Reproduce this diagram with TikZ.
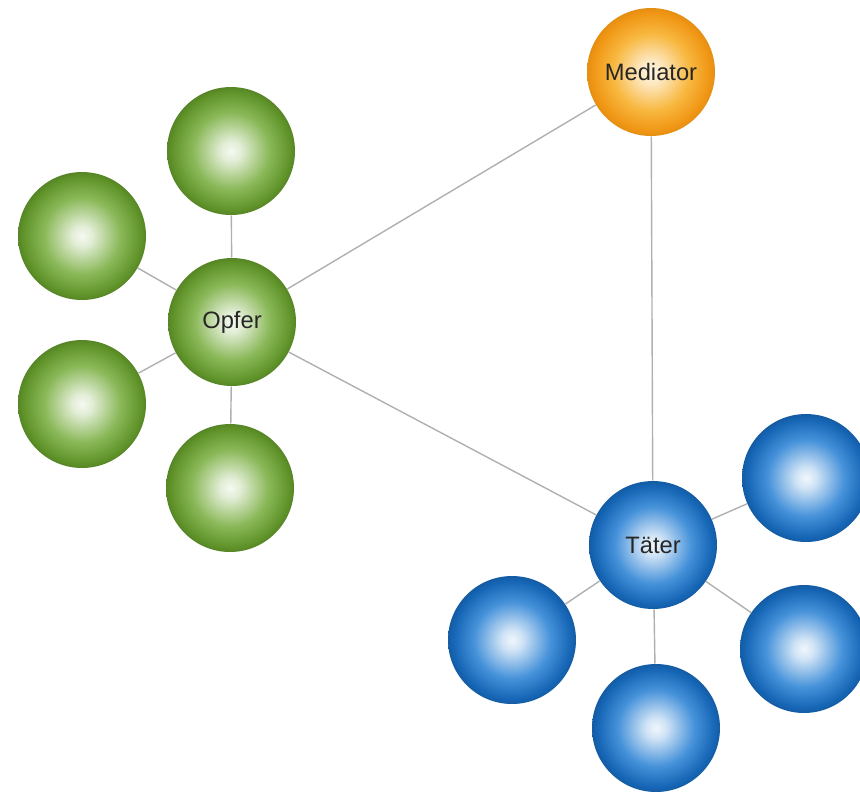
\documentclass[tikz,border=0pt]{standalone}
\usepackage{xcolor}
\usepackage{fontspec}
\setmainfont{Liberation Sans}
\usepackage{tikz}
\usetikzlibrary{positioning}

\definecolor{opferdark}{RGB}{96,148,42}
\definecolor{opfermid}{RGB}{138,184,88}
\definecolor{taeterdark}{RGB}{22,102,182}
\definecolor{taetermid}{RGB}{70,146,218}
\definecolor{meddark}{RGB}{240,150,20}
\definecolor{medmid}{RGB}{248,184,64}
\definecolor{linkgray}{RGB}{176,176,176}

\pgfdeclareradialshading{opfershade}{\pgfpoint{0bp}{0bp}}{color(0bp)=(white!92!opfermid); color(4bp)=(white!75!opfermid); color(15bp)=(opfermid); color(23bp)=(opferdark); color(25bp)=(opferdark!90!black); color(50bp)=(opferdark!90!black)}
\pgfdeclareradialshading{taetershade}{\pgfpoint{0bp}{0bp}}{color(0bp)=(white!92!taetermid); color(4bp)=(white!75!taetermid); color(15bp)=(taetermid); color(23bp)=(taeterdark); color(25bp)=(taeterdark!90!black); color(50bp)=(taeterdark!90!black)}
\pgfdeclareradialshading{medshade}{\pgfpoint{0bp}{0bp}}{color(0bp)=(white!85!medmid); color(5bp)=(white!65!medmid); color(15bp)=(medmid); color(23bp)=(meddark); color(25bp)=(meddark!95!black); color(50bp)=(meddark!95!black)}

\begin{document}
\begin{tikzpicture}[x=0.02cm, y=-0.02cm,
ball/.style={circle, minimum size=2.56cm, inner sep=0pt, text=black!85, font=\fontsize{13.5}{16}\selectfont},
opferball/.style={ball, shading=opfershade},
taeterball/.style={ball, shading=taetershade},
medball/.style={ball, shading=medshade},
link/.style={draw=linkgray, line width=0.8pt}]
    \useasboundingbox (0,0) rectangle (860,792);

    \node[medball] (med) at (651,72) {Mediator};
    \node[opferball] (opfer) at (232,322) {Opfer};
    \node[taeterball] (taeter) at (653,545) {Täter};

    % satellites of Opfer
    \node[opferball] (opfer1) at (231,151) {};
    \node[opferball] (opfer2) at (82,236) {};
    \node[opferball] (opfer3) at (82,404) {};
    \node[opferball] (opfer4) at (230,488) {};

    % satellites of Taeter
    \node[taeterball] (taeter1) at (806,478) {};
    \node[taeterball] (taeter2) at (512,640) {};
    \node[taeterball] (taeter3) at (656,728) {};
    \node[taeterball] (taeter4) at (804,649) {};

    \draw[link] (opfer) -- (med);
    \draw[link] (opfer) -- (taeter);
    \draw[link] (med) -- (taeter);

    \draw[link] (opfer) -- (opfer1);
    \draw[link] (opfer) -- (opfer2);
    \draw[link] (opfer) -- (opfer3);
    \draw[link] (opfer) -- (opfer4);

    \draw[link] (taeter) -- (taeter1);
    \draw[link] (taeter) -- (taeter2);
    \draw[link] (taeter) -- (taeter3);
    \draw[link] (taeter) -- (taeter4);
\end{tikzpicture}
\end{document}
